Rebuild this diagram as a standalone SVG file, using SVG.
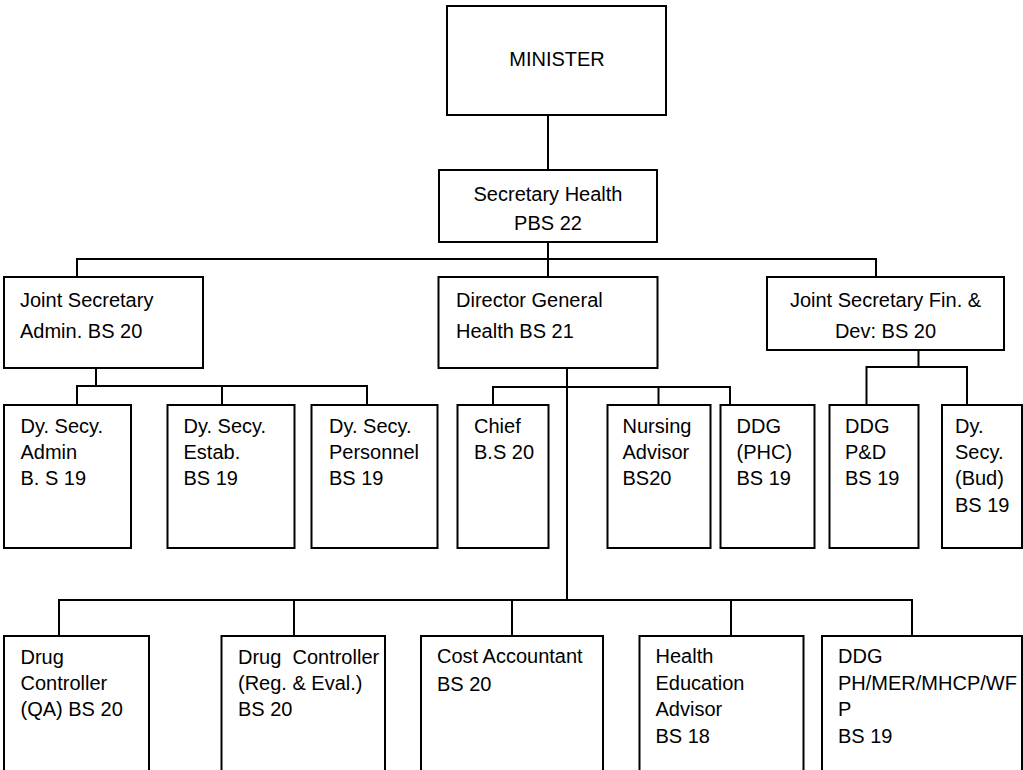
<svg xmlns="http://www.w3.org/2000/svg" width="1023" height="770" viewBox="0 0 1023 770">
<style>
.box{fill:#fff;stroke:#000;stroke-width:2}
.c{stroke:#000;stroke-width:2;fill:none}
text{font-family:"Liberation Sans",Arial,sans-serif;font-size:20px;fill:#000}
.m{text-anchor:middle}
</style>
<rect width="1023" height="770" fill="#fff"/>
<g id="connectors" class="c">
<line x1="548" y1="115" x2="548" y2="170"/>
<line x1="548" y1="242" x2="548" y2="277"/>
<polyline points="77,277 77,259 876,259 876,277"/>
<line x1="96" y1="368" x2="96" y2="386"/>
<polyline points="77,405 77,386 367,386 367,405"/>
<line x1="222" y1="386" x2="222" y2="405"/>
<line x1="567" y1="368" x2="567" y2="600"/>
<polyline points="493,405 493,387 730,387 730,405"/>
<line x1="658.5" y1="387" x2="658.5" y2="405"/>
<line x1="918.5" y1="350" x2="918.5" y2="367"/>
<polyline points="866.5,405 866.5,367 967,367 967,405"/>
<polyline points="59,636 59,600 912,600 912,636"/>
<line x1="294" y1="600" x2="294" y2="636"/>
<line x1="512" y1="600" x2="512" y2="636"/>
<line x1="731" y1="600" x2="731" y2="636"/>
</g>
<g id="minister"><rect class="box" x="447" y="6" width="219" height="109"/><text class="m" x="557" y="66">MINISTER</text></g>
<g id="secretary"><rect class="box" x="439" y="170" width="218" height="72"/><text class="m" x="548" y="201">Secretary Health</text><text class="m" x="548" y="230">PBS 22</text></g>
<g id="js-admin"><rect class="box" x="4" y="277" width="199" height="91"/><text x="20" y="307">Joint Secretary</text><text x="20" y="338">Admin. BS 20</text></g>
<g id="dg"><rect class="box" x="438.5" y="277" width="219" height="91"/><text x="456" y="307">Director General</text><text x="456" y="338">Health BS 21</text></g>
<g id="js-fin"><rect class="box" x="767" y="277" width="237" height="73"/><text class="m" x="885.5" y="307">Joint Secretary Fin. &amp;</text><text class="m" x="885.5" y="338">Dev: BS 20</text></g>
<g id="dys-admin"><rect class="box" x="4" y="405" width="127" height="143"/><text x="20.5" y="433">Dy. Secy.</text><text x="20.5" y="459">Admin</text><text x="20.5" y="485">B. S 19</text></g>
<g id="dys-estab"><rect class="box" x="167.5" y="405" width="127" height="143"/><text x="183.5" y="433">Dy. Secy.</text><text x="183.5" y="459">Estab.</text><text x="183.5" y="485">BS 19</text></g>
<g id="dys-personnel"><rect class="box" x="311.5" y="405" width="126" height="143"/><text x="329" y="433">Dy. Secy.</text><text x="329" y="459">Personnel</text><text x="329" y="485">BS 19</text></g>
<g id="chief"><rect class="box" x="457.5" y="405" width="91" height="143"/><text x="474" y="433">Chief</text><text x="474" y="459">B.S 20</text></g>
<g id="nursing"><rect class="box" x="607.5" y="405" width="103" height="143"/><text x="622.5" y="433">Nursing</text><text x="622.5" y="459">Advisor</text><text x="622.5" y="485">BS20</text></g>
<g id="ddg-phc"><rect class="box" x="720.5" y="405" width="94" height="143"/><text x="736.5" y="433">DDG</text><text x="736.5" y="459">(PHC)</text><text x="736.5" y="485">BS 19</text></g>
<g id="ddg-pd"><rect class="box" x="829.5" y="405" width="89" height="143"/><text x="845" y="433">DDG</text><text x="845" y="459">P&amp;D</text><text x="845" y="485">BS 19</text></g>
<g id="dys-bud"><rect class="box" x="942" y="405" width="80" height="143"/><text x="955" y="433">Dy.</text><text x="955" y="459">Secy.</text><text x="955" y="485">(Bud)</text><text x="955" y="511.5">BS 19</text></g>
<g id="drug-qa"><rect class="box" x="4" y="636" width="145" height="150"/><text x="20.5" y="664">Drug</text><text x="20.5" y="690">Controller</text><text x="20.5" y="716">(QA) BS 20</text></g>
<g id="drug-reg"><rect class="box" x="221.5" y="636" width="163.5" height="150"/><text x="238" y="664" xml:space="preserve">Drug  Controller</text><text x="238" y="690">(Reg. &amp; Eval.)</text><text x="238" y="716">BS 20</text></g>
<g id="cost"><rect class="box" x="421" y="636" width="182" height="150"/><text x="437" y="663">Cost Accountant</text><text x="437" y="691">BS 20</text></g>
<g id="health-edu"><rect class="box" x="639.5" y="636" width="164" height="150"/><text x="655.5" y="663">Health</text><text x="655.5" y="690">Education</text><text x="655.5" y="716">Advisor</text><text x="655.5" y="743">BS 18</text></g>
<g id="ddg-ph"><rect class="box" x="822" y="636" width="200" height="150"/><text x="838" y="663">DDG</text><text x="838" y="690">PH/MER/MHCP/WF</text><text x="838" y="716">P</text><text x="838" y="743">BS 19</text></g>
</svg>
